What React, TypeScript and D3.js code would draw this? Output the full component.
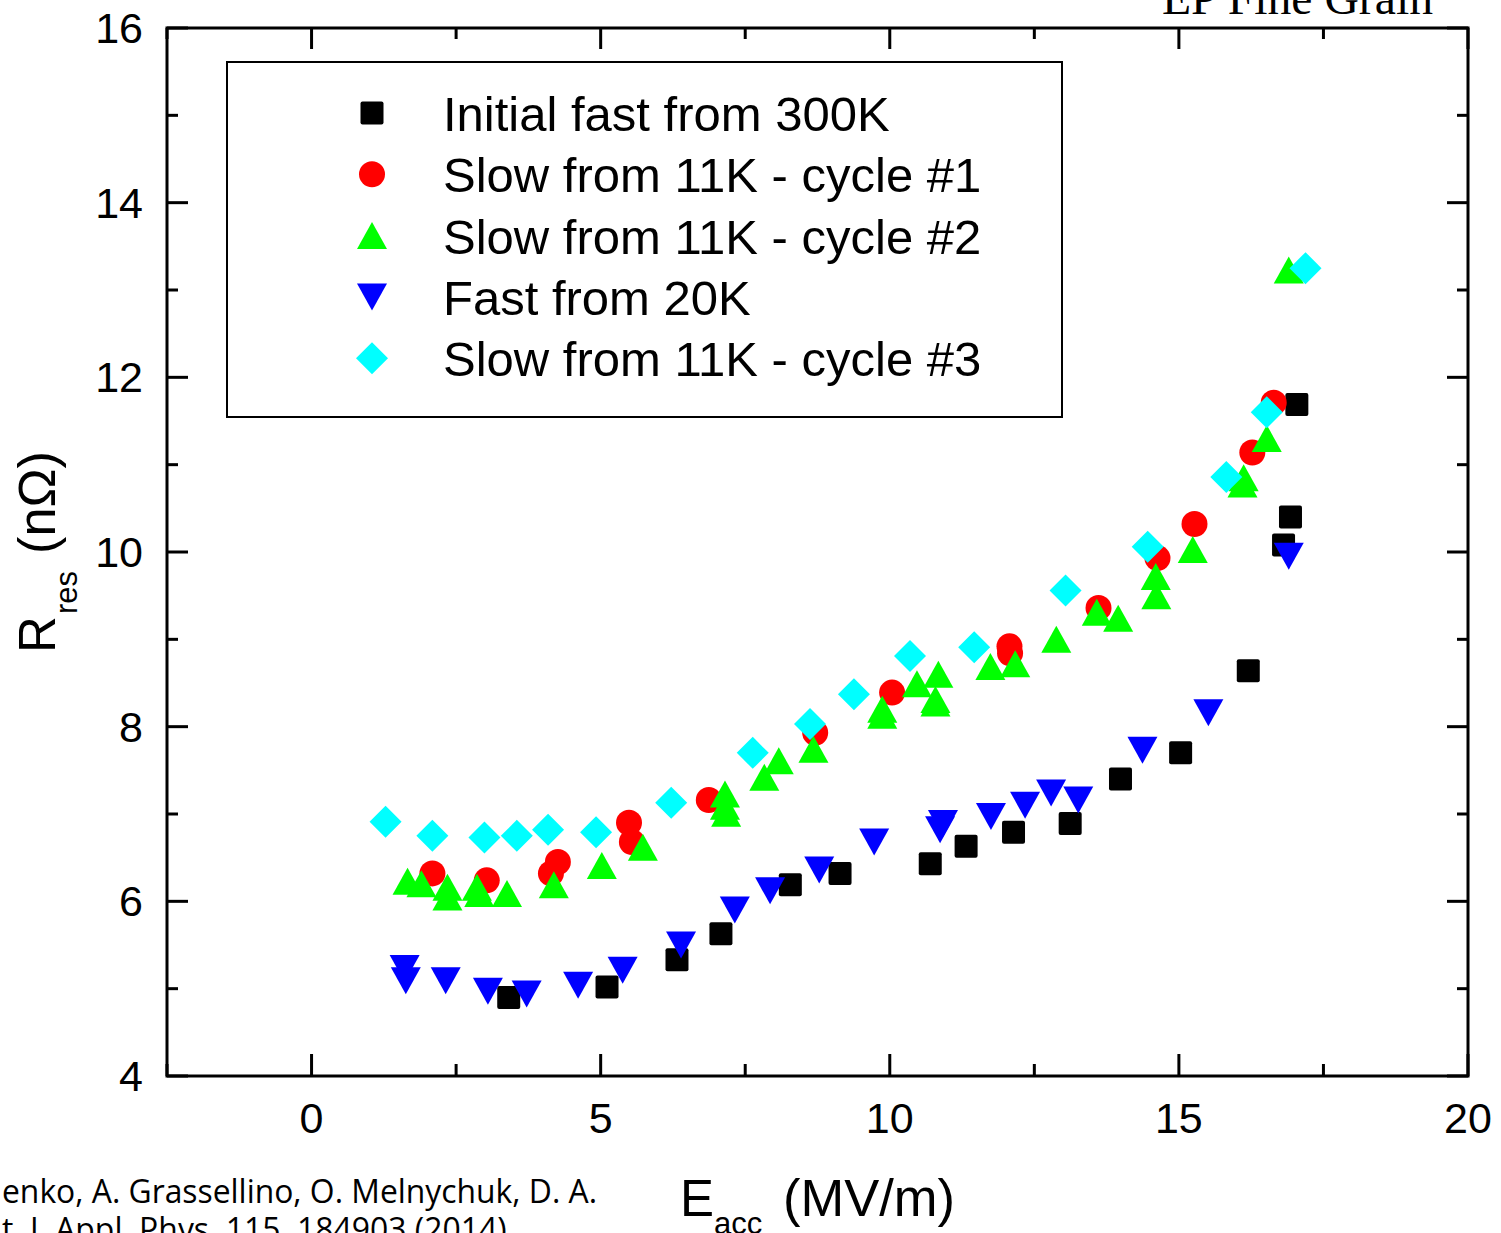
import React from "react";
import * as d3 from "d3";

const xTicksMajor = [0, 5, 10, 15, 20];
const xTicksMinor = [-2.5, 2.5, 7.5, 12.5, 17.5];
const yTicksMajor = [4, 6, 8, 10, 12, 14, 16];
const yTicksMinor = [5, 7, 9, 11, 13, 15];

const initialFastE = [3.41, 5.11, 6.32, 7.08, 8.28, 9.14, 10.70, 11.32, 12.14, 13.12, 13.99, 15.03, 16.20, 16.81, 16.93, 17.04];
const initialFastR = [4.90, 5.02, 5.33, 5.63, 6.19, 6.32, 6.43, 6.63, 6.79, 6.89, 7.40, 7.70, 8.64, 10.08, 10.40, 11.69];

const cycle1E = [2.09, 3.03, 4.14, 4.26, 5.49, 5.54, 6.87, 8.71, 10.04, 12.07, 12.08, 13.61, 14.63, 15.27, 16.27, 16.64];
const cycle1R = [6.32, 6.24, 6.32, 6.45, 6.90, 6.68, 7.16, 7.93, 8.39, 8.92, 8.84, 9.36, 9.93, 10.32, 11.14, 11.71];

const cycle2E = [1.66, 1.90, 2.35, 2.35, 2.86, 2.90, 3.38, 4.19, 5.02, 5.73, 7.15, 7.15, 7.17, 7.83, 8.08, 8.68, 9.87, 9.87, 10.47, 10.84, 10.79, 10.79, 11.74, 12.17, 12.88, 13.58, 13.95, 14.60, 14.61, 15.24, 16.12, 16.10, 16.52, 16.90];
const cycle2R = [6.23, 6.20, 6.16, 6.05, 6.16, 6.09, 6.09, 6.19, 6.41, 6.62, 7.23, 7.09, 7.01, 7.42, 7.61, 7.74, 8.20, 8.13, 8.49, 8.60, 8.31, 8.27, 8.69, 8.72, 9.00, 9.31, 9.24, 9.72, 9.50, 10.03, 10.85, 10.78, 11.30, 13.23];

const fast20E = [1.61, 1.63, 2.32, 3.05, 3.72, 4.61, 5.38, 6.39, 7.32, 7.93, 8.78, 9.73, 10.92, 10.87, 11.75, 12.34, 12.79, 13.26, 14.37, 15.51, 16.90];
const fast20R = [5.23, 5.09, 5.09, 4.97, 4.94, 5.04, 5.21, 5.50, 5.90, 6.12, 6.36, 6.68, 6.89, 6.82, 6.97, 7.10, 7.24, 7.16, 7.73, 8.16, 9.95];

const cycle3E = [1.28, 2.09, 2.99, 3.55, 4.09, 4.92, 6.22, 7.63, 8.62, 9.38, 10.35, 11.46, 13.04, 14.46, 15.82, 16.52, 17.19];
const cycle3R = [6.91, 6.75, 6.73, 6.75, 6.82, 6.79, 7.13, 7.70, 8.03, 8.37, 8.81, 8.91, 9.56, 10.06, 10.86, 11.60, 13.25];

const seriesNames = [
  "Initial fast from 300K",
  "Slow from 11K - cycle #1",
  "Slow from 11K - cycle #2",
  "Fast from 20K",
  "Slow from 11K - cycle #3",
];

type Shape = "square" | "circle" | "up" | "down" | "diamond";

const series: { name: string; xs: number[]; ys: number[]; shape: Shape; color: string }[] = [
  { name: seriesNames[0], xs: initialFastE, ys: initialFastR, shape: "square", color: "#000000" },
  { name: seriesNames[1], xs: cycle1E, ys: cycle1R, shape: "circle", color: "#ff0000" },
  { name: seriesNames[2], xs: cycle2E, ys: cycle2R, shape: "up", color: "#00ff00" },
  { name: seriesNames[3], xs: fast20E, ys: fast20R, shape: "down", color: "#0000ff" },
  { name: seriesNames[4], xs: cycle3E, ys: cycle3R, shape: "diamond", color: "#00ffff" },
];

function Marker({ shape, cx, cy, color }: { shape: Shape; cx: number; cy: number; color: string }) {
  switch (shape) {
    case "square":
      return <rect x={cx - 11.5} y={cy - 11.5} width={23} height={23} rx={2} fill={color} />;
    case "circle":
      return <circle cx={cx} cy={cy} r={13} fill={color} />;
    case "up":
      return <path d={`M${cx},${cy - 13.5}L${cx + 15},${cy + 13.5}L${cx - 15},${cy + 13.5}Z`} fill={color} />;
    case "down":
      return <path d={`M${cx},${cy + 13.5}L${cx + 15},${cy - 13.5}L${cx - 15},${cy - 13.5}Z`} fill={color} />;
    case "diamond":
      return <path d={`M${cx},${cy - 16}L${cx + 16},${cy}L${cx},${cy + 16}L${cx - 16},${cy}Z`} fill={color} />;
  }
  return null;
}

export default function App() {
  const W = 1501;
  const H = 1233;
  const left = 167, right = 1468, top = 28, bottom = 1076;
  const x = d3.scaleLinear().domain([-2.5, 20]).range([left, right]);
  const y = d3.scaleLinear().domain([4, 16]).range([bottom, top]);
  const font = "'Liberation Sans', Arial, Helvetica, sans-serif";

  return (
    <svg
      width={W}
      height={H}
      style={{ position: "absolute", left: 0, top: 0, background: "#fff" }}
      fontFamily={font}
    >
      <rect x={0} y={0} width={W} height={H} fill="#fff" />
      {/* Header text cut at top */}
      <text x={1162} y={14} fontFamily="'Liberation Serif', 'Times New Roman', serif" fontSize={47} textLength={271} lengthAdjust="spacingAndGlyphs">
        EP Fine Grain
      </text>

      {/* ticks */}
      <g stroke="#000" strokeWidth={3}>
        {xTicksMajor.map((t) => (
          <g key={"xM" + t}>
            <line x1={x(t)} x2={x(t)} y1={bottom} y2={bottom - 22} />
            <line x1={x(t)} x2={x(t)} y1={top} y2={top + 21} />
          </g>
        ))}
        {xTicksMinor.map((t) => (
          <g key={"xm" + t}>
            <line x1={x(t)} x2={x(t)} y1={bottom} y2={bottom - 12} />
            <line x1={x(t)} x2={x(t)} y1={top} y2={top + 11} />
          </g>
        ))}
        {yTicksMajor.map((t) => (
          <g key={"yM" + t}>
            <line x1={left} x2={left + 21} y1={y(t)} y2={y(t)} />
            <line x1={right} x2={right - 21} y1={y(t)} y2={y(t)} />
          </g>
        ))}
        {yTicksMinor.map((t) => (
          <g key={"ym" + t}>
            <line x1={left} x2={left + 11} y1={y(t)} y2={y(t)} />
            <line x1={right} x2={right - 11} y1={y(t)} y2={y(t)} />
          </g>
        ))}
      </g>

      {/* tick labels */}
      {xTicksMajor.map((t) => (
        <text key={"xl" + t} x={x(t)} y={1133} fontSize={43} textAnchor="middle">
          {t}
        </text>
      ))}
      {yTicksMajor.map((t) => (
        <text key={"yl" + t} x={143} y={y(t) + 15} fontSize={43} textAnchor="end">
          {t}
        </text>
      ))}

      {/* legend */}
      <rect x={227} y={62} width={835} height={355} fill="none" stroke="#000" strokeWidth={2} />
      {series.map((s, i) => (
        <g key={"lg" + i}>
          <Marker shape={s.shape} cx={372} cy={113 + i * 61.3} color={s.color} />
          <text x={443} y={131 + i * 61.3} fontSize={49}>
            {s.name}
          </text>
        </g>
      ))}

      {/* data */}
      {series.map((s, i) => (
        <g key={"s" + i}>
          {s.xs.map((v, j) => (
            <Marker key={j} shape={s.shape} cx={x(v)} cy={y(s.ys[j])} color={s.color} />
          ))}
        </g>
      ))}

      {/* frame */}
      <rect x={left} y={top} width={right - left} height={bottom - top} fill="none" stroke="#000" strokeWidth={3} />

      {/* axis titles */}
      <text x={680} y={1216} fontSize={51}>E</text>
      <text x={714} y={1234} fontSize={31}>acc</text>
      <text x={783} y={1216} fontSize={51} textLength={172} lengthAdjust="spacingAndGlyphs">(MV/m)</text>

      <g transform="translate(55,653) rotate(-90)">
        <text x={0} y={0} fontSize={51}>R</text>
        <text x={39} y={22} fontSize={31}>res</text>
        <text x={99} y={0} fontSize={51} textLength={103} lengthAdjust="spacingAndGlyphs">(nΩ)</text>
      </g>

      {/* citation, cut at left/bottom */}
      <text x={2} y={1203} fontSize={32} fontFamily="'Open Sans', 'Noto Sans', sans-serif" textLength={595} lengthAdjust="spacingAndGlyphs">
        enko, A. Grassellino, O. Melnychuk, D. A.
      </text>
      <text x={2} y={1241} fontSize={32} fontFamily="'Open Sans', 'Noto Sans', sans-serif" textLength={513} lengthAdjust="spacingAndGlyphs">
        t, J. Appl. Phys. 115, 184903 (2014).
      </text>
    </svg>
  );
}
